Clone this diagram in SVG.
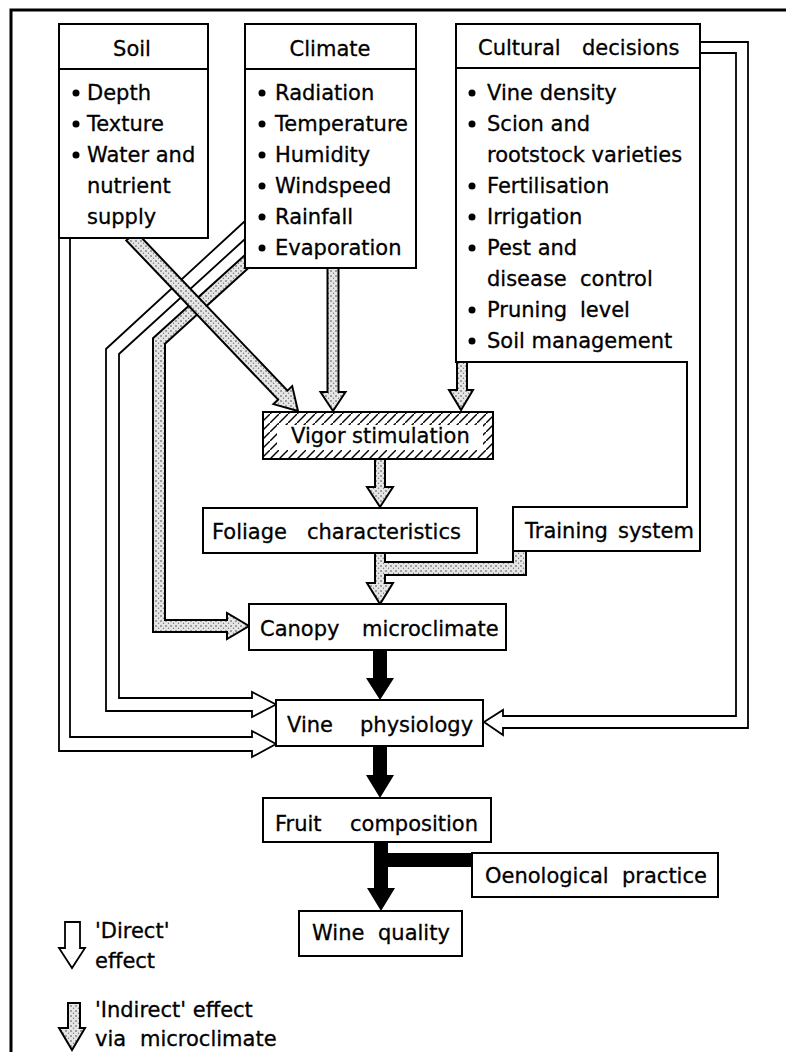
<svg xmlns="http://www.w3.org/2000/svg" width="786" height="1052" viewBox="0 0 786 1052">
<defs>
<pattern id="stipple" width="5" height="5" patternUnits="userSpaceOnUse">
<rect width="5" height="5" fill="#e6e6e6"/>
<circle cx="1" cy="1" r="0.8" fill="#444"/>
<circle cx="3.5" cy="3.2" r="0.7" fill="#777"/>
</pattern>
<pattern id="hatch" width="9" height="9" patternUnits="userSpaceOnUse">
<rect width="9" height="9" fill="#fff"/>
<path d="M-1,10 L10,-1" stroke="#000" stroke-width="1.4"/>
</pattern>
<style>
.box{fill:#fff;stroke:#000;stroke-width:2}
.t{font-family:"DejaVu Sans","Liberation Sans",sans-serif;font-size:21px;fill:#000;stroke:#000;stroke-width:0.3}
.hollow{fill:#fff;stroke:#000;stroke-width:1.8;stroke-linejoin:miter}
.stip{fill:url(#stipple);stroke:#000;stroke-width:2;stroke-linejoin:miter}
.solid{fill:#000}
.div{stroke:#000;stroke-width:2}
.frame{fill:none;stroke:#000;stroke-width:3}
</style>
</defs>
<path class="frame" d="M11,1052 V10 H786"/>

<g id="connectors">
<path class="hollow" d="M245,221 L106,349 V711 H252 V717 L276,704.5 L252,692 V698 H119 V354 L245,239"/>
<path class="hollow" d="M59,238 V751 H252 V757 L276,744 L252,731 V737 H70 V238"/>
<path class="hollow" d="M700,42 H748 V728 H503 V735 L484,722 L503,710 V716 H736 V53 H700"/>
<path class="stip" d="M247,253.2 L153,338.3 V632 H227 V639 L249,626 L227,613 V620 H165 V343.7 L255,262.1 Z"/>
<path class="stip" d="M126.3,240.5 L278.1,399.6 L273.4,404.1 L298,411 L292.2,386.1 L287.5,390.6 L135.7,231.5 Z"/>
<path class="stip" d="M327.5,268 V392 H320.5 L333,411 L345.5,392 H338.5 V268 Z"/>
<path class="stip" d="M457,362 V390 H449 L461,410 L473,390 H467 V362 Z"/>
<path class="stip" d="M375,459 V487 H367 L380,507 L393,487 H385 V459 Z"/>
<path class="stip" d="M375,553 V583 H367 L380,604 L393,583 H385 V575 H526 V551 H513 V562 H385 V553 Z"/>
<path class="solid" d="M373,650 V678 H366 L380,700 L394,678 H387 V650 Z"/>
<path class="solid" d="M373,746 V775 H366 L380,798 L394,775 H387 V746 Z"/>
<path class="solid" d="M374,842 V888 H367 L381,911 L395,888 H388 V867 H472 V853 H388 V842 Z"/>
</g>

<g id="soil">
<rect class="box" x="59" y="24" width="149" height="214"/>
<line class="div" x1="59" y1="69" x2="208" y2="69"/>
<text class="t" x="132" y="56" text-anchor="middle">Soil</text>
<circle cx="76" cy="93" r="3.5"/><text class="t" x="87" y="100">Depth</text>
<circle cx="76" cy="124" r="3.5"/><text class="t" x="87" y="131">Texture</text>
<circle cx="76" cy="155" r="3.5"/><text class="t" x="87" y="162">Water and</text>
<text class="t" x="87" y="193">nutrient</text>
<text class="t" x="87" y="224">supply</text>
</g>

<g id="climate">
<rect class="box" x="245" y="24" width="171" height="244"/>
<line class="div" x1="245" y1="69" x2="416" y2="69"/>
<text class="t" x="330" y="56" text-anchor="middle">Climate</text>
<circle cx="262" cy="93" r="3.5"/><text class="t" x="275" y="100">Radiation</text>
<circle cx="262" cy="124" r="3.5"/><text class="t" x="275" y="131">Temperature</text>
<circle cx="262" cy="155" r="3.5"/><text class="t" x="275" y="162">Humidity</text>
<circle cx="262" cy="186" r="3.5"/><text class="t" x="275" y="193">Windspeed</text>
<circle cx="262" cy="217" r="3.5"/><text class="t" x="275" y="224">Rainfall</text>
<circle cx="262" cy="248" r="3.5"/><text class="t" x="275" y="255">Evaporation</text>
</g>

<g id="cultural">
<path class="box" d="M456,24 H700 V551 H513 V507 H687 V362 H456 Z"/>
<line class="div" x1="456" y1="68" x2="700" y2="68"/>
<text class="t" y="55"><tspan x="478">Cultural</tspan><tspan x="582">decisions</tspan></text>
<circle cx="472" cy="93" r="3.5"/><text class="t" x="487" y="100">Vine density</text>
<circle cx="472" cy="124" r="3.5"/><text class="t" x="487" y="131">Scion and</text>
<text class="t" x="487" y="162">rootstock varieties</text>
<circle cx="472" cy="186" r="3.5"/><text class="t" x="487" y="193">Fertilisation</text>
<circle cx="472" cy="217" r="3.5"/><text class="t" x="487" y="224">Irrigation</text>
<circle cx="472" cy="248" r="3.5"/><text class="t" x="487" y="255">Pest and</text>
<text class="t" y="286"><tspan x="487">disease</tspan><tspan x="580">control</tspan></text>
<circle cx="472" cy="310" r="3.5"/><text class="t" y="317"><tspan x="487">Pruning</tspan><tspan x="580">level</tspan></text>
<circle cx="472" cy="341" r="3.5"/><text class="t" x="487" y="348">Soil management</text>
</g>

<g id="training">
<text class="t" y="538"><tspan x="525">Training</tspan><tspan x="618">system</tspan></text>
</g>

<g id="vigor">
<rect x="263" y="412" width="230" height="47" fill="url(#hatch)" stroke="#000" stroke-width="2"/>
<rect x="277" y="425" width="206" height="25" fill="#fff"/>
<text class="t" y="443"><tspan x="291">Vigor</tspan><tspan x="352">stimulation</tspan></text>
</g>

<g id="foliage">
<rect class="box" x="203" y="508" width="274" height="45"/>
<text class="t" y="539"><tspan x="212">Foliage</tspan><tspan x="307">characteristics</tspan></text>
</g>

<g id="canopy">
<rect class="box" x="249" y="604" width="257" height="46"/>
<text class="t" y="636"><tspan x="260">Canopy</tspan><tspan x="362">microclimate</tspan></text>
</g>

<g id="vine">
<rect class="box" x="276" y="700" width="207" height="46"/>
<text class="t" y="732"><tspan x="287">Vine</tspan><tspan x="360">physiology</tspan></text>
</g>

<g id="fruit">
<rect class="box" x="263" y="798" width="228" height="44"/>
<text class="t" y="831"><tspan x="275">Fruit</tspan><tspan x="350">composition</tspan></text>
</g>

<g id="oenological">
<rect class="box" x="472" y="853" width="246" height="44"/>
<text class="t" y="883"><tspan x="485">Oenological</tspan><tspan x="622">practice</tspan></text>
</g>

<g id="wine">
<rect class="box" x="299" y="911" width="163" height="45"/>
<text class="t" y="940"><tspan x="312">Wine</tspan><tspan x="378">quality</tspan></text>
</g>

<g id="legend">
<path class="hollow" d="M65,922 H80 V948 H85 L72,968 L59,948 H65 Z"/>
<text class="t" x="95" y="938">'Direct'</text>
<text class="t" x="95" y="968">effect</text>
<path class="stip" d="M68,1003 H80 V1028 H85 L72,1050 L59,1028 H68 Z"/>
<text class="t" x="95" y="1017">'Indirect' effect</text>
<text class="t" y="1046"><tspan x="95">via</tspan><tspan x="140">microclimate</tspan></text>
</g>
</svg>
